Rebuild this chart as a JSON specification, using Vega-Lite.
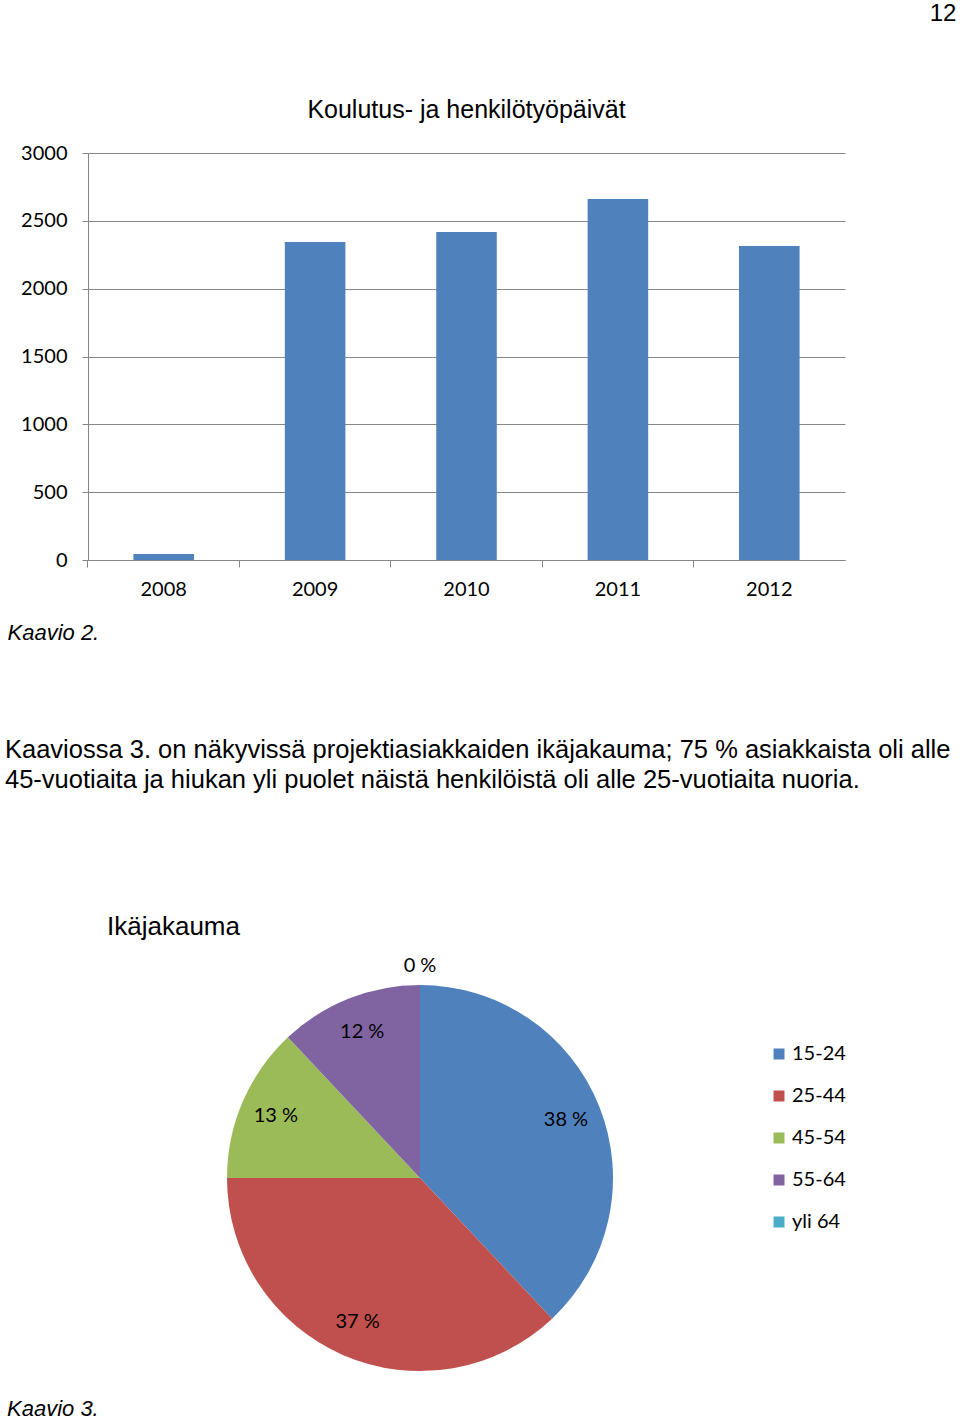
{
  "$schema": "https://vega.github.io/schema/vega-lite/v6.json",
  "background": "white",
  "padding": {"left": 5, "top": 2, "right": 0, "bottom": 0},
  "autosize": {"type": "pad"},
  "title": {"text": "12", "anchor": "end", "font": "Liberation Sans", "fontSize": 24, "fontWeight": "normal", "color": "black", "dx": 6, "offset": 72},
  "spacing": 94,
  "vconcat": [
    {
      "width": 757,
      "height": 407,
      "title": {"text": "Koulutus- ja henkilötyöpäivät", "font": "Liberation Sans", "fontSize": 25, "fontWeight": "normal", "color": "black", "anchor": "middle", "offset": 20},
      "data": {"values": [
        {"year": "2008", "days": 44},
        {"year": "2009", "days": 2344},
        {"year": "2010", "days": 2418},
        {"year": "2011", "days": 2661},
        {"year": "2012", "days": 2315}
      ]},
      "mark": {"type": "bar", "color": "#4F81BD"},
      "encoding": {
        "x": {"field": "year", "type": "ordinal", "scale": {"paddingInner": 0.6, "paddingOuter": 0.3},
          "axis": {"title": "Kaavio 2.", "titleX": -81, "titleY": 72, "titleAlign": "left", "titleBaseline": "middle", "titleAnchor": null, "titleFont": "Liberation Sans", "titleFontStyle": "italic", "titleFontWeight": "normal", "titleFontSize": 22, "titleColor": "black",
            "labelAngle": 0, "bandPosition": -0.75, "labelOffset": 0, "labelFont": "Lato", "labelFontSize": 20, "labelColor": "black", "labelPadding": 12, "tickSize": 7, "tickColor": "#868686", "domainColor": "#868686", "grid": false}},
        "y": {"field": "days", "type": "quantitative", "scale": {"domain": [0, 3000], "nice": false},
          "axis": {"title": null, "format": "d", "values": [0, 500, 1000, 1500, 2000, 2500, 3000], "labelFont": "Lato", "labelFontSize": 20, "labelColor": "black", "labelPadding": 15, "tickSize": 6, "tickColor": "#868686", "domainColor": "#868686", "gridColor": "#868686", "grid": true}}
      }
    },
    {
      "title": {"text": ["Kaaviossa 3. on näkyvissä projektiasiakkaiden ikäjakauma; 75 % asiakkaista oli alle", "45-vuotiaita ja hiukan yli puolet näistä henkilöistä oli alle 25-vuotiaita nuoria."], "font": "Liberation Sans", "fontSize": 25.5, "lineHeight": 30, "fontWeight": "normal", "color": "black", "anchor": "start", "offset": 121, "dx": -2},
      "vconcat": [
        {
          "title": {"text": "Kaavio 3.", "orient": "bottom", "font": "Liberation Sans", "fontSize": 22, "fontStyle": "italic", "fontWeight": "normal", "color": "black", "anchor": "start", "offset": 11, "dx": -81},
          "vconcat": [
            {
              "width": 664,
              "height": 420,
              "title": {"text": "Ikäjakauma", "font": "Liberation Sans", "fontSize": 26, "fontWeight": "normal", "color": "black", "anchor": "start", "offset": 16, "dx": 19},
              "data": {"values": [
                {"age": "15-24", "value": 38, "label": "38 %"},
                {"age": "25-44", "value": 37, "label": "37 %"},
                {"age": "45-54", "value": 13, "label": "13 %"},
                {"age": "55-64", "value": 12, "label": "12 %"},
                {"age": "yli 64", "value": 0, "label": "0 %"}
              ]},
              "encoding": {
                "theta": {"field": "value", "type": "quantitative", "stack": true},
                "order": {"field": "age", "type": "ordinal", "sort": "ascending"}
              },
              "layer": [
                {"mark": {"type": "arc", "outerRadius": 193},
                  "encoding": {
                    "color": {"field": "age", "type": "nominal",
                      "scale": {"domain": ["15-24", "25-44", "45-54", "55-64", "yli 64"], "range": ["#4F81BD", "#C0504D", "#9BBB59", "#8064A2", "#4BACC6"]},
                      "legend": {"title": null, "orient": "none", "legendX": 681, "legendY": 891, "symbolType": "square", "symbolSize": 121, "symbolStrokeWidth": 0, "symbolOpacity": 1, "labelFont": "Lato", "labelFontSize": 20, "labelColor": "black", "rowPadding": 22, "labelOffset": 3}}
                  }},
                {"mark": {"type": "text", "radius": 157, "font": "Lato", "fontSize": 20, "fill": "black"},
                  "encoding": {"text": {"field": "label"}, "detail": {"field": "age"},
                    "opacity": {"condition": {"test": "datum.value == 0", "value": 0}, "value": 1}}},
                {"mark": {"type": "text", "radius": 212, "font": "Lato", "fontSize": 20, "fill": "black"},
                  "encoding": {"text": {"field": "label"}, "detail": {"field": "age"},
                    "opacity": {"condition": {"test": "datum.value == 0", "value": 1}, "value": 0}}}
              ]
            }
          ]
        }
      ]
    }
  ],
  "config": {"view": {"stroke": null}}
}
